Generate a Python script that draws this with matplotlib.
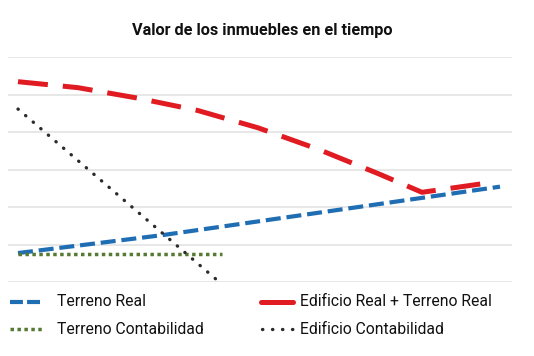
"""Valor de los inmuebles en el tiempo."""
import matplotlib
matplotlib.use("Agg")
import matplotlib.pyplot as plt
from matplotlib.lines import Line2D

plt.rcParams["font.family"] = ["Roboto", "DejaVu Sans"]

# data (x = time units, y = value)
terreno_real_x = [0, 14.5, 48.2]
terreno_real_y = [78, 126, 255]

edificio_terreno_x = [0, 6, 12, 18, 24, 30, 36, 40.4, 47]
edificio_terreno_y = [535, 519, 491, 458, 412, 355, 290, 240, 265]

terreno_cont_x = [0, 20.4]
terreno_cont_y = [75, 75]

edificio_cont_x = [0, 19.9]
edificio_cont_y = [462, 6]

labels = ["Terreno Real", "Terreno Contabilidad",
          "Edificio Real + Terreno Real", "Edificio Contabilidad"]

BLUE = "#1f6db3"
RED = "#e01b22"
GREEN = "#557a33"
DARK = "#2b2b2b"

W, H = 534, 356
fig = plt.figure(figsize=(W / 100, H / 100), dpi=100)
ax = fig.add_axes([8 / W, 1 - 282.3 / H, 504 / W, 225 / H])

styles = [
    dict(color=BLUE, lw=3, dashes=(3.6, 1.4)),
    dict(color=GREEN, lw=2.5, dashes=(1, 1)),
    dict(color=RED, lw=3.6, dashes=(6, 3)),
    dict(color=DARK, lw=2.4, dashes=(0.1, 2.9), dash_capstyle="round"),
]
series = [(terreno_real_x, terreno_real_y), (terreno_cont_x, terreno_cont_y),
          (edificio_terreno_x, edificio_terreno_y), (edificio_cont_x, edificio_cont_y)]
for (xs, ys), st in zip(series, styles):
    ax.plot(xs, ys, clip_on=False, **st)

ax.set_xlim(-1, 49.4)
ax.set_ylim(0, 600)
ax.set_yticks(range(0, 601, 100))
ax.grid(axis="y", color="#e3e3e3", lw=1.2)
ax.set_axisbelow(True)
ax.tick_params(left=False, bottom=False, labelleft=False, labelbottom=False)
for s in ax.spines.values():
    s.set_visible(False)

fig.text(0.492, 1 - 31 / H, "Valor de los inmuebles en el tiempo",
         ha="center", va="center", fontsize=11.7, fontweight="bold", color="#111111")

# legend drawn by hand (pixel positions)
leg_handles = [
    dict(color=BLUE, lw=3, dashes=(3.1, 1.0)),
    dict(color=GREEN, lw=2.5, dashes=(1, 1)),
    dict(color=RED, lw=3.6, solid_capstyle="round"),
    dict(color=DARK, lw=2.4, dashes=(0.1, 2.9), dash_capstyle="round"),
]
leg_pos = [(10, 40, 57, 302), (10, 42, 57, 329), (261, 293, 300, 302), (262, 293, 300, 329)]
for lab, st, (x0, x1, xt, yy) in zip(labels, leg_handles, leg_pos):
    fig.add_artist(Line2D([x0 / W, x1 / W], [1 - yy / H, 1 - yy / H],
                          transform=fig.transFigure, **st))
    fig.text(xt / W, 1 - yy / H, lab, ha="left", va="center",
             fontsize=11.3, color="#111111")

fig.savefig("out.png", dpi=100)
